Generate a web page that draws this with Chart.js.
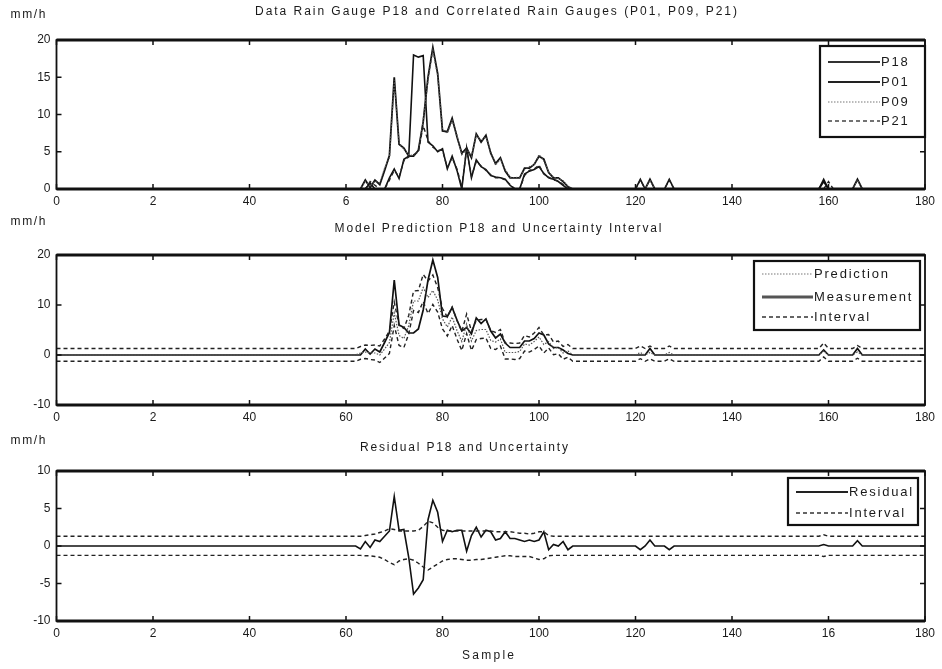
<!DOCTYPE html>
<html>
<head>
<meta charset="utf-8">
<script src="https://cdn.jsdelivr.net/npm/chart.js@4.4.1/dist/chart.umd.min.js"></script>
<style>
  body { margin: 0; background: #fff; }
  #wrap { position: relative; width: 942px; height: 669px; }
  canvas { position: absolute; left: 0; }
</style>
</head>
<body>
<div id="wrap">
  <canvas id="c1" width="942" height="216" style="top:0px"></canvas>
  <canvas id="c2" width="942" height="218" style="top:216px"></canvas>
  <canvas id="c3" width="942" height="235" style="top:434px"></canvas>
</div>
<script>
// ---- data (samples 0..180, storm block starts at sample 62) ----
const SAMPLE_MAX = 180;
const eventStart = 62;

const p18Event = [0,0,1.2,0.2,1.2,0.6,2.5,4.5,15.0,6.0,5.5,4.4,4.4,5.2,9.0,15.0,19.0,15.5,7.8,7.7,9.5,7.0,4.8,5.5,4.2,7.4,6.3,7.2,4.8,3.4,4.2,2.4,1.5,1.5,1.5,2.8,2.8,3.3,4.4,4.0,2.2,1.5,1.5,1.0,0.3,0];
const p01Event = [0,0,0,0.8,0,0,0,1.5,2.7,1.4,4.0,4.4,18.0,17.7,17.9,6.3,5.8,5.0,5.4,2.7,4.4,2.5,0,5.5,1.5,3.9,3.0,2.6,1.8,1.6,1.5,1.3,0.5,0,0,2.0,2.4,2.6,3.0,2.1,1.5,1.3,1.0,0.5,0,0];
const p09Event = [0,0,1.0,0.4,1.0,0.8,2.8,4.2,14.6,6.2,5.3,4.6,4.5,5.0,9.2,14.6,18.6,15.2,8.0,7.5,9.2,7.2,4.6,5.3,4.4,7.2,6.5,7.0,5.0,3.2,4.0,2.6,1.6,1.5,1.6,2.6,3.0,3.2,4.6,3.8,2.3,1.6,1.4,1.1,0.4,0];
const p21Event = [0,0,0,1.0,0.5,0,0,1.2,2.5,1.6,3.8,4.3,4.6,5.0,8.5,6.5,5.6,5.2,5.2,2.9,4.2,2.7,0.3,5.3,1.7,3.7,3.1,2.5,1.9,1.5,1.5,1.2,0.6,0,0,1.8,2.5,2.7,3.2,2.0,1.6,1.2,1.1,0.6,0,0];

const p18SpikeX = [123, 159, 166];
const p18SpikeY = [1.3, 1.0, 1.3];
const p01SpikeX = [121, 127, 159];
const p01SpikeY = [1.3, 1.3, 1.3];
const p09SpikeX = [123, 166];
const p09SpikeY = [1.2, 1.2];
const p21SpikeX = [121, 127, 160];
const p21SpikeY = [1.2, 1.2, 1.0];

const predEvent = [0,0.4,0.6,0.4,0.4,0,1.2,2.5,8.4,3.9,3.3,5.9,10.8,10.8,13.5,11.5,12.9,11.0,7.2,5.6,7.6,4.9,2.7,6.2,2.8,4.9,5.1,5.1,2.9,2.6,3.2,0.5,0.5,0.5,0.7,2.2,2.0,2.7,3.6,2.1,2.7,1.3,1.5,0.4,0.8,0];
const upperEvent = [1.3,1.7,2.0,1.9,2.0,1.8,3.2,4.8,10.6,5.9,5.3,7.9,12.8,12.9,16.1,14.8,16.0,13.5,9.3,7.6,9.6,6.9,4.7,8.2,4.8,6.9,7.1,7.1,4.9,4.5,5.1,2.4,2.4,2.3,2.4,3.9,3.6,4.4,5.5,4.0,4.1,2.6,2.8,1.7,2.1,1.3];
const lowerEvent = [-1.25,-0.85,-0.7,-0.9,-1.0,-1.5,-0.6,0.3,5.9,1.9,1.5,4.2,8.9,8.5,10.7,8.3,10.1,8.6,5.2,3.8,5.9,3.2,0.9,4.3,0.9,3.1,3.3,3.4,1.3,1.1,1.8,-0.8,-0.8,-0.9,-0.7,0.8,0.6,1.1,1.8,0.4,1.4,0.05,0.25,-0.85,-0.45,-1.25];
const predSpikeX = [121, 123, 127, 159, 166];
const predSpikeY = [0.5, 0.5, 0.5, 0.8, 0.6];
const upperSpikeY = [1.8, 1.8, 1.8, 2.4, 1.9];
const lowerSpikeY = [-0.75, -0.75, -0.75, -0.4, -0.65];

const residEvent = [0,-0.4,0.6,-0.2,0.8,0.6,1.3,2.0,6.6,2.1,2.2,-1.5,-6.4,-5.6,-4.5,3.5,6.1,4.5,0.6,2.1,1.9,2.1,2.1,-0.7,1.4,2.5,1.2,2.1,1.9,0.8,1.0,1.9,1.0,1.0,0.8,0.6,0.8,0.6,0.8,1.9,-0.5,0.2,0,0.6,-0.5,0];
const resUpperEvent = [1.3,1.3,1.4,1.5,1.6,1.8,2.0,2.3,2.2,2.0,2.0,2.0,2.0,2.1,2.6,3.3,3.1,2.5,2.1,2.0,2.0,2.0,2.0,2.0,2.0,2.0,2.0,2.0,2.0,1.9,1.9,1.9,1.9,1.8,1.7,1.7,1.6,1.7,1.9,1.9,1.4,1.3,1.3,1.3,1.3,1.3];
const resLowerEvent = [-1.25,-1.25,-1.3,-1.3,-1.4,-1.5,-1.8,-2.2,-2.5,-2.0,-1.8,-1.7,-1.9,-2.3,-2.8,-3.2,-2.8,-2.4,-2.0,-1.8,-1.7,-1.7,-1.8,-1.9,-1.9,-1.8,-1.8,-1.7,-1.6,-1.5,-1.4,-1.3,-1.3,-1.4,-1.4,-1.4,-1.4,-1.6,-1.8,-1.7,-1.3,-1.25,-1.25,-1.25,-1.25,-1.25];
const residSpikeX = [121, 123, 127, 159, 166];
const residSpikeY = [-0.5, 0.8, -0.5, 0.2, 0.7];
const resBandSpikeX = [159];
const resUpperSpikeY = [1.5];
const resLowerSpikeY = [-1.4];

const rainBase = 0;
const bandUpperBase = 1.3;
const bandLowerBase = -1.25;

const xTickLabelsTop = ['0','2','40','6','80','100','120','140','160','180'];
const xTickLabelsMid = ['0','2','40','60','80','100','120','140','160','180'];
const xTickLabelsBot = ['0','2','40','60','80','100','120','140','16','180'];

// ---- helpers ----
const FONT = '"Liberation Sans", Arial, sans-serif';
const INK = '#1a1a1a';

const series = (base, values, spikeX, spikeY) => {
  const pts = [];
  for (let s = 0; s <= SAMPLE_MAX; s++) {
    let y = base;
    const i = s - eventStart;
    if (i >= 0 && i < values.length) y = values[i];
    const k = spikeX.indexOf(s);
    if (k >= 0) y = spikeY[k];
    pts.push({ x: s, y: y });
  }
  return pts;
};

const line = (data, color, width, dash) => ({
  data: data, borderColor: color, borderWidth: width, borderDash: dash || [],
  pointRadius: 0, tension: 0, fill: false
});

const fitText = (ctx, text, cx, y, targetW) => {
  ctx.letterSpacing = '0px';
  const w = ctx.measureText(text).width;
  const sp = (targetW - w) / (text.length - 1);
  ctx.letterSpacing = sp + 'px';
  ctx.textAlign = 'left';
  ctx.fillText(text, cx - targetW / 2, y);
  ctx.letterSpacing = '0px';
};

// frame, inward ticks, titles and boxed legend
const decorPlugin = {
  id: 'decor',
  afterDraw(chart, args, opts) {
    const ctx = chart.ctx;
    const a = chart.chartArea;
    const xs = chart.scales.x, ys = chart.scales.y;
    ctx.save();
    ctx.strokeStyle = '#111';
    ctx.lineWidth = 1.5;
    ctx.setLineDash([]);
    ctx.beginPath();
    xs.ticks.forEach(t => {
      const px = xs.getPixelForValue(t.value);
      ctx.moveTo(px, a.bottom); ctx.lineTo(px, a.bottom - 5);
      ctx.moveTo(px, a.top); ctx.lineTo(px, a.top + 5);
    });
    ys.ticks.forEach(t => {
      const py = ys.getPixelForValue(t.value);
      ctx.moveTo(a.left, py); ctx.lineTo(a.left + 5, py);
      ctx.moveTo(a.right, py); ctx.lineTo(a.right - 5, py);
    });
    ctx.stroke();
    ctx.lineWidth = 1.8;
    ctx.strokeRect(a.left, a.top, a.right - a.left, a.bottom - a.top);
    // matlab-style heavier top and bottom edges
    ctx.lineWidth = 3;
    ctx.beginPath();
    ctx.moveTo(a.left, a.top); ctx.lineTo(a.right, a.top);
    ctx.moveTo(a.left, a.bottom); ctx.lineTo(a.right, a.bottom);
    ctx.stroke();

    ctx.fillStyle = INK;
    ctx.textBaseline = 'middle';
    ctx.font = '12px ' + FONT;
    fitText(ctx, 'mm/h', 28, opts.unitY, 35);
    fitText(ctx, opts.title, opts.titleCx, opts.titleY, opts.titleW);
    if (opts.xlabel) fitText(ctx, opts.xlabel, opts.xlabelCx, opts.xlabelY, 52);

    const L = opts.legend;
    ctx.fillStyle = '#fff';
    ctx.fillRect(L.x, L.y, L.w, L.h);
    ctx.strokeStyle = '#111';
    ctx.lineWidth = 2.2;
    ctx.strokeRect(L.x, L.y, L.w, L.h);
    ctx.font = '13px ' + FONT;
    L.items.forEach((it, i) => {
      const y = L.rows[i];
      ctx.beginPath();
      ctx.strokeStyle = it.color;
      ctx.lineWidth = it.width;
      ctx.setLineDash(it.dash || []);
      ctx.moveTo(L.x0, y); ctx.lineTo(L.x1, y);
      ctx.stroke();
      ctx.setLineDash([]);
      ctx.fillStyle = INK;
      ctx.letterSpacing = '1.8px';
      ctx.textAlign = 'left';
      ctx.fillText(it.text, L.x1 + 1, y);
      ctx.letterSpacing = '0px';
    });
    ctx.restore();
  }
};

const makeChart = (id, datasets, yMin, yMax, yStep, xLabels, padTop, xAxisH, decor) => {
  const tickFont = { family: FONT, size: 12 };
  return new Chart(document.getElementById(id), {
    type: 'line',
    data: { datasets: datasets },
    options: {
      responsive: false,
      animation: false,
      parsing: false,
      layout: { padding: { top: padTop, right: 17, left: 0, bottom: 0 } },
      plugins: { legend: { display: false }, tooltip: { enabled: false }, decor: decor },
      scales: {
        x: {
          type: 'linear', min: 0, max: SAMPLE_MAX,
          ticks: { stepSize: 20, autoSkip: false, maxRotation: 0, padding: 5, color: INK, font: tickFont,
                   callback: v => xLabels[Math.round(v / 20)] },
          grid: { display: false, drawTicks: false },
          border: { display: false },
          afterFit: s => { s.height = xAxisH; }
        },
        y: {
          min: yMin, max: yMax,
          ticks: { stepSize: yStep, padding: 6, color: INK, font: tickFont },
          grid: { display: false, drawTicks: false },
          border: { display: false },
          afterFit: s => { s.width = 56.5; }
        }
      }
    },
    plugins: [decorPlugin]
  });
};

// ---- top: gauges ----
makeChart('c1', [
  line(series(rainBase, p21Event, p21SpikeX, p21SpikeY), '#222', 1.4, [4, 3]),
  line(series(rainBase, p09Event, p09SpikeX, p09SpikeY), '#555', 1.2, [1.5, 1.5]),
  line(series(rainBase, p01Event, p01SpikeX, p01SpikeY), '#111', 1.6),
  line(series(rainBase, p18Event, p18SpikeX, p18SpikeY), '#111', 1.8)
], 0, 20, 5, xTickLabelsTop, 40, 27, {
  title: 'Data Rain Gauge P18 and Correlated Rain Gauges (P01, P09, P21)',
  titleCx: 496, titleY: 12, titleW: 482, unitY: 15,
  legend: {
    x: 820, y: 46, w: 105, h: 91, x0: 828, x1: 880, rows: [62, 82, 102, 121],
    items: [
      { text: 'P18', color: '#333', width: 2.2 },
      { text: 'P01', color: '#222', width: 1.8 },
      { text: 'P09', color: '#777', width: 1.2, dash: [1.5, 1.5] },
      { text: 'P21', color: '#444', width: 1.6, dash: [4, 3] }
    ]
  }
});

// ---- middle: prediction ----
makeChart('c2', [
  line(series(bandUpperBase, upperEvent, predSpikeX, upperSpikeY), '#222', 1.4, [4, 3]),
  line(series(bandLowerBase, lowerEvent, predSpikeX, lowerSpikeY), '#222', 1.4, [4, 3]),
  line(series(rainBase, predEvent, predSpikeX, predSpikeY), '#555', 1.2, [1.5, 1.5]),
  line(series(rainBase, p18Event, p18SpikeX, p18SpikeY), '#111', 1.7)
], -10, 20, 10, xTickLabelsMid, 39, 29, {
  title: 'Model Prediction P18 and Uncertainty Interval',
  titleCx: 498, titleY: 13, titleW: 327, unitY: 6,
  legend: {
    x: 754, y: 45, w: 166, h: 69, x0: 762, x1: 813, rows: [58, 81, 101],
    items: [
      { text: 'Prediction', color: '#777', width: 1.2, dash: [1.5, 1.5] },
      { text: 'Measurement', color: '#555', width: 3 },
      { text: 'Interval', color: '#333', width: 1.6, dash: [4, 3] }
    ]
  }
});

// ---- bottom: residual ----
makeChart('c3', [
  line(series(bandUpperBase, resUpperEvent, resBandSpikeX, resUpperSpikeY), '#222', 1.4, [4, 3]),
  line(series(bandLowerBase, resLowerEvent, resBandSpikeX, resLowerSpikeY), '#222', 1.4, [4, 3]),
  line(series(rainBase, residEvent, residSpikeX, residSpikeY), '#111', 1.6)
], -10, 10, 5, xTickLabelsBot, 37, 48, {
  title: 'Residual P18 and Uncertainty',
  titleCx: 464, titleY: 14, titleW: 208, unitY: 7,
  xlabel: 'Sample', xlabelCx: 488, xlabelY: 222,
  legend: {
    x: 788, y: 44, w: 130, h: 47, x0: 796, x1: 848, rows: [58, 79],
    items: [
      { text: 'Residual', color: '#222', width: 1.8 },
      { text: 'Interval', color: '#333', width: 1.6, dash: [4, 3] }
    ]
  }
});
</script>
</body>
</html>
